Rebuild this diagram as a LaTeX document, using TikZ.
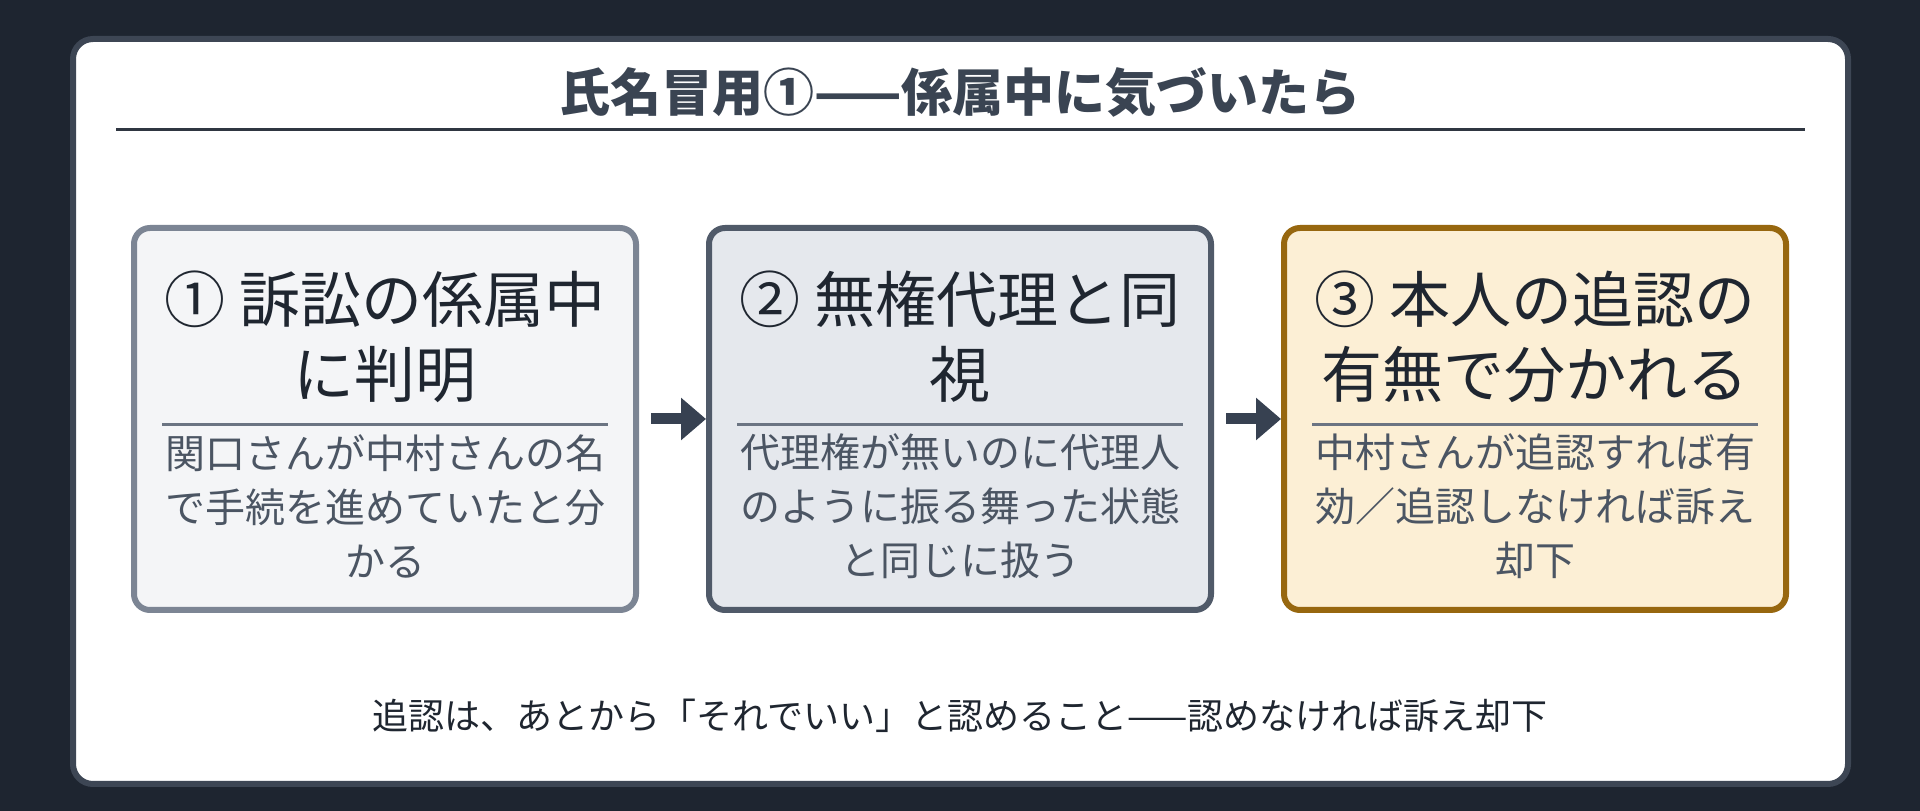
\documentclass[tikz,border=0pt]{standalone}
\usepackage{fontspec}
\setmainfont{Noto Sans CJK JP}
\usetikzlibrary{arrows.meta}
\definecolor{pagebg}{HTML}{1E2530}
\definecolor{cardline}{HTML}{3D4654}
\definecolor{titlecol}{HTML}{3A4452}
\definecolor{rulecol}{HTML}{2F3641}
\definecolor{inkcol}{HTML}{1F2630}
\definecolor{softink}{HTML}{4B5563}
\definecolor{divider}{HTML}{6B7482}
\definecolor{arrowcol}{HTML}{374151}
\definecolor{lightline}{HTML}{7C8594}
\definecolor{lightfill}{HTML}{F4F5F7}
\definecolor{slateline}{HTML}{505A69}
\definecolor{slatefill}{HTML}{E5E8ED}
\definecolor{goldline}{HTML}{97670F}
\definecolor{goldfill}{HTML}{FCEFD5}
\tikzset{
  card/.style = {draw=cardline, line width=6pt, fill=white, rounded corners=20pt},
  stage/.style = {draw=#1line, fill=#1fill, line width=6pt, rounded corners=16pt,
                  minimum width=502pt, minimum height=382pt, inner sep=0pt},
  stage/.default = light,
  headtext/.style = {align=center, text=inkcol, inner sep=0pt,
                  font=\fontsize{61}{75}\selectfont},
  subtext/.style = {align=center, text=softink, inner sep=0pt,
                  font=\fontsize{40}{54}\selectfont},
  boxrule/.style = {draw=divider, line width=3pt},
  flow/.style = {draw=arrowcol, line width=11pt,
                 -{Triangle[length=25pt,width=41pt]}},
}
\begin{document}
\begin{tikzpicture}[x=1pt, y=1pt]
\useasboundingbox[fill=pagebg] (0,0) rectangle (1920,811);
\path[card] (73,27) rectangle (1848,772);
% title
\node[text=titlecol, font=\fontsize{51}{60}\selectfont\bfseries] (ttl) at (960,719) {氏名冒用①——係属中に気づいたら};
\draw[draw=rulecol, line width=3pt] (116,681) -- (1805,681);
% three stages
\node[stage=light] (b1) at (385,392) {};
\node[stage=slate] (b2) at (960,392) {};
\node[stage=gold] (b3) at (1535,392) {};
\node[headtext] (h1) at (385,474.5) {① 訴訟の係属中\\に判明};
\node[headtext] (h2) at (960,474.5) {② 無権代理と同\\視};
\node[headtext] (h3) at (1535,474.5) {③ 本人の追認の\\有無で分かれる};
\draw[boxrule] (162,386) -- (608,386);
\draw[boxrule] (737,386) -- (1183,386);
\draw[boxrule] (1312,386) -- (1758,386);
\node[subtext] (d1) at (385,305) {関口さんが中村さんの名\\で手続を進めていたと分\\かる};
\node[subtext] (d2) at (960,305) {代理権が無いのに代理人\\のように振る舞った状態\\と同じに扱う};
\node[subtext] (d3) at (1535,305) {中村さんが追認すれば有\\効／追認しなければ訴え\\却下};
% arrows
\coordinate (a1) at (651,392);
\coordinate (a2) at (1226,392);
\draw[flow] (a1) -- (b2);
\draw[flow] (a2) -- (b3);
% note
\node[text=inkcol, font=\fontsize{36}{44}\selectfont] (nt) at (960,95) {追認は、あとから「それでいい」と認めること——認めなければ訴え却下};
\end{tikzpicture}
\end{document}
